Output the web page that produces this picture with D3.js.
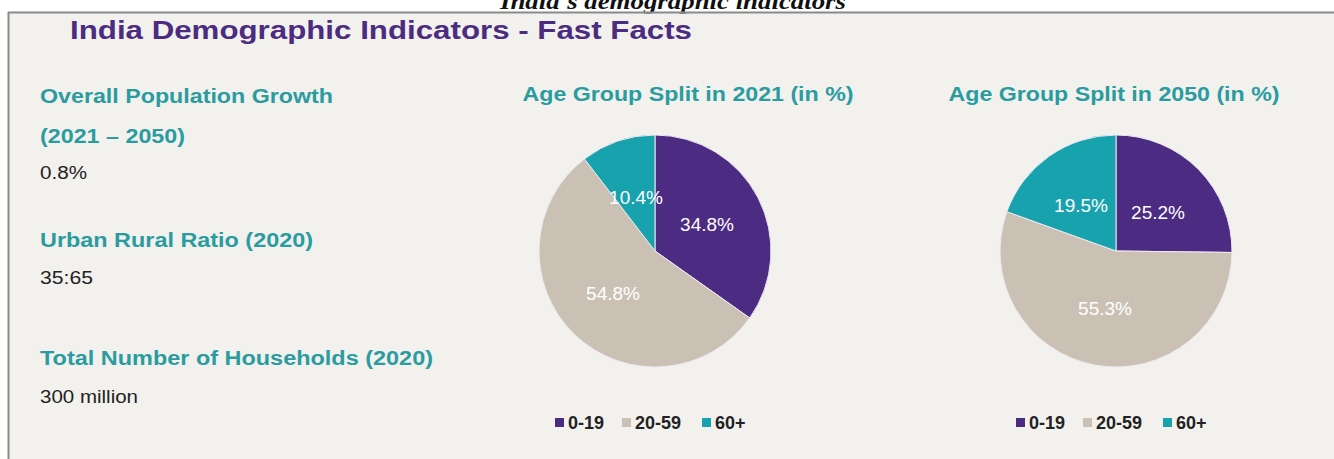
<!DOCTYPE html>
<html>
<head>
<meta charset="utf-8">
<script src="https://cdn.jsdelivr.net/npm/d3@7"></script>
<style>
  body { margin: 0; background: #fff; }
  text { font-family: "Liberation Sans", Arial, sans-serif; }
</style>
</head>
<body>
<div id="chart"></div>
<script>
// ---- data ----
var caption = "India's demographic indicators";
var title = "India Demographic Indicators - Fast Facts";
var factLabels = [["Overall Population Growth", "(2021 \u2013 2050)"], ["Urban Rural Ratio (2020)"], ["Total Number of Households (2020)"]];
var factValues = ["0.8%", "35:65", "300 million"];
var ageGroups = ["0-19", "20-59", "60+"];
var split2021 = [34.8, 54.8, 10.4];
var split2050 = [25.2, 55.3, 19.5];
var pieTitles = ["Age Group Split in 2021 (in %)", "Age Group Split in 2050 (in %)"];

var width = 1334, height = 459;
var purple = "#4c2b82", beige = "#cac1b4", teal = "#17a2ad";
var headTeal = "#2a9c9f";

var svg = d3.select("#chart").append("svg")
    .attr("width", width)
    .attr("height", height);

// panel
svg.append("rect")
    .attr("x", 8).attr("y", 12)
    .attr("width", width - 8).attr("height", height - 12)
    .attr("fill", "#f2f1ee");

// caption, cut off at the top like the source image
svg.append("text")
    .attr("x", 673).attr("y", 9)
    .attr("text-anchor", "middle")
    .attr("textLength", 346).attr("lengthAdjust", "spacingAndGlyphs")
    .style("font-family", "'Liberation Serif', 'Times New Roman', serif")
    .style("font-style", "italic")
    .style("font-weight", "bold")
    .style("font-size", "24px")
    .attr("fill", "#111")
    .text(caption);

// panel top over descenders + borders
svg.append("rect")
    .attr("x", 8).attr("y", 13.5).attr("width", width - 8).attr("height", 3)
    .attr("fill", "#f2f1ee");
svg.append("line")
    .attr("x1", 8).attr("y1", 12.5).attr("x2", width).attr("y2", 12.5)
    .attr("stroke", "#8a8a8a").attr("stroke-width", 2);
svg.append("line")
    .attr("x1", 8.5).attr("y1", 12).attr("x2", 8.5).attr("y2", height)
    .attr("stroke", "#8a8a8a").attr("stroke-width", 2);

svg.append("text")
    .attr("x", 70).attr("y", 39)
    .attr("textLength", 622).attr("lengthAdjust", "spacingAndGlyphs")
    .style("font-size", "26px")
    .style("font-weight", "bold")
    .attr("fill", "#4b2c80")
    .text(title);

// fast facts on the left
var factY = [[103, 143], [247], [365]];
var valueY = [179, 284, 403];
var labelWidths = [[293, 145], [273], [393]];
var valueWidths = [47, 53, 98];
factLabels.forEach(function(lines, i) {
    lines.forEach(function(line, j) {
        svg.append("text")
            .attr("x", 40).attr("y", factY[i][j])
            .attr("textLength", labelWidths[i][j]).attr("lengthAdjust", "spacingAndGlyphs")
            .style("font-size", "20px")
            .style("font-weight", "bold")
            .attr("fill", headTeal)
            .text(line);
    });
    svg.append("text")
        .attr("x", 40).attr("y", valueY[i])
        .attr("textLength", valueWidths[i]).attr("lengthAdjust", "spacingAndGlyphs")
        .style("font-size", "18px")
        .attr("fill", "#222")
        .text(factValues[i]);
});

var color = d3.scaleOrdinal().domain(ageGroups).range([purple, beige, teal]);
var pie = d3.pie().sort(null).value(function(d) { return d.value; });
var radius = 116;
var arc = d3.arc().innerRadius(0).outerRadius(radius);

function drawPie(cx, values, titleText, titleDx, labelPos) {
    var g = svg.append("g").attr("transform", "translate(" + cx + ",251)");
    var data = ageGroups.map(function(k, i) { return { key: k, value: values[i] }; });
    var arcs = pie(data);

    g.append("text")
        .attr("x", titleDx).attr("y", -150)
        .attr("text-anchor", "middle")
        .attr("textLength", 331).attr("lengthAdjust", "spacingAndGlyphs")
        .style("font-size", "20px")
        .style("font-weight", "bold")
        .attr("fill", headTeal)
        .text(titleText);

    g.selectAll("path")
        .data(arcs)
        .enter().append("path")
        .attr("d", arc)
        .attr("fill", function(d) { return color(d.data.key); })
        .attr("stroke", "#eee9f2")
        .attr("stroke-width", 1);

    g.selectAll(".lbl")
        .data(arcs)
        .enter().append("text")
        .attr("class", "lbl")
        .attr("x", function(d, i) { return labelPos[i][0]; })
        .attr("y", function(d, i) { return labelPos[i][1]; })
        .attr("text-anchor", "middle")
        .style("font-size", "19px")
        .attr("fill", "#fff")
        .text(function(d) { return d.data.value.toFixed(1) + "%"; });

    // legend
    var legend = g.append("g").attr("transform", "translate(-100,172)");
    var offsets = [0, 67, 147];
    ageGroups.forEach(function(k, i) {
        legend.append("rect")
            .attr("x", offsets[i]).attr("y", -5)
            .attr("width", 9).attr("height", 9)
            .attr("fill", color(k));
        legend.append("text")
            .attr("x", offsets[i] + 13).attr("y", 6)
            .style("font-size", "18px")
            .style("font-weight", "bold")
            .attr("fill", "#222")
            .text(k);
    });
}

// label centres offset from pie centre, order 0-19, 20-59, 60+
drawPie(655, split2021, pieTitles[0], 33, [[52, -20], [-42, 49], [-19, -47]]);
drawPie(1116, split2050, pieTitles[1], -2, [[42, -32], [-11, 64], [-35, -39]]);
</script>
</body>
</html>
